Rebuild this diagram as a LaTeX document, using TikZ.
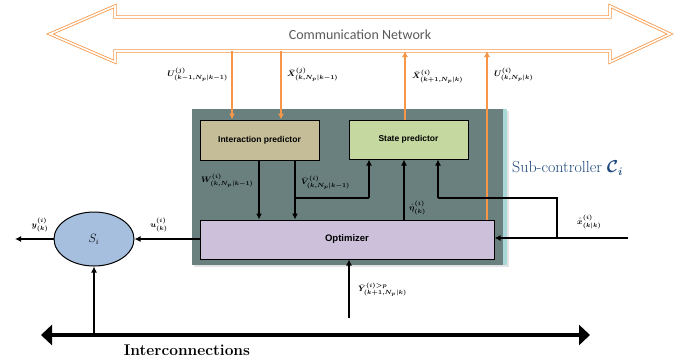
\documentclass[tikz,border=0pt]{standalone}
\usepackage{amsmath,bm}
\usepackage{fontspec}
\newfontfamily\sansb{Liberation Sans}
\newfontfamily\carl{Carlito}
\usetikzlibrary{arrows.meta,shapes.geometric}
\definecolor{slate}{RGB}{105,128,126}
\definecolor{cyanstrip}{RGB}{170,215,215}
\definecolor{khaki}{RGB}{196,189,151}
\definecolor{lgreen}{RGB}{196,216,160}
\definecolor{lav}{RGB}{204,192,218}
\definecolor{eblue}{RGB}{166,191,222}
\definecolor{orng}{RGB}{247,150,70}
\definecolor{subblue}{RGB}{31,73,125}
\definecolor{netgray}{RGB}{90,90,90}
\tikzset{
  blk/.style={draw=black, line width=1pt, inner sep=0pt},
  boxtxt/.style={font=\sansb\bfseries\fontsize{8.5}{10}\selectfont},
  oarrow/.style={draw=orng, line width=1.8pt, -{Latex[length=6pt,width=6pt]}},
  karrow/.style={draw=black, line width=1.6pt, -{Latex[length=6pt,width=6pt]}},
  kline/.style={draw=black, line width=1.6pt},
  lab/.style={font=\fontsize{8.5}{10}\selectfont, inner sep=0pt}
}
\begin{document}
\begin{tikzpicture}[x=1pt,y=-1pt]
\useasboundingbox (0,0) rectangle (684,360);
% Communication network arrow
\draw[draw=orng, double=white, double distance=1.6pt, line width=0.8pt, line join=miter]
  (50,34) -- (115,6) -- (115,17) -- (610,17) -- (610,6) -- (670,34)
  -- (610,62) -- (610,51) -- (115,51) -- (115,62) -- cycle;
\node[font=\carl\fontsize{14}{15}\selectfont, text=netgray] (net) at (360,35) {Communication Network};
% network anchor coordinates
\coordinate (n1) at (232,51);
\coordinate (n2) at (281,51);
\coordinate (n3) at (405,51);
\coordinate (n4) at (487,51);
% sub-controller box
\fill[gray!22] (194,111) rectangle (509,267);
\node[fill=slate, minimum width=315pt, minimum height=156pt, inner sep=0pt] (sub) at (349.5,187) {};
\fill[cyanstrip] (503,109) rectangle (507,265);
% inner blocks
\node[blk, fill=khaki, minimum width=119pt, minimum height=40pt, boxtxt] (ip) at (259.5,140) {Interaction predictor};
\node[blk, fill=lgreen, minimum width=119pt, minimum height=39pt, boxtxt] (sp) at (408.5,139.5) {State predictor};
\node[blk, fill=lav, minimum width=294pt, minimum height=39pt, font=\sansb\bfseries\fontsize{9.5}{11}\selectfont] (opt) at (347,239.5) {Optimizer};
\node[ellipse, draw=black, line width=1pt, fill=eblue, minimum width=80pt, minimum height=54pt, inner sep=0pt, font=\large] (sys) at (94,239) {$S_i$};
\node[font=\fontsize{16}{18}\selectfont, text=subblue, anchor=west, inner sep=0pt] (subl) at (512,168) {Sub-controller $\bm{\mathcal{C}_i}$};
% orange arrows
\draw[oarrow] (n1) -- (n1 |- ip.north);
\draw[oarrow] (n2) -- (n2 |- ip.north);
\draw[oarrow] (n3 |- sp.north) -- (n3);
\draw[oarrow] (n4 |- opt.north) -- (n4);
% black internal arrows
\coordinate (w1) at (259,160);
\coordinate (v1) at (295,160);
\coordinate (vb) at (295,198);
\coordinate (vc) at (369,198);
\draw[karrow] (w1) -- (w1 |- opt.north);
\draw[karrow] (v1) -- (v1 |- opt.north);
\draw[kline] (vb) -- (vc);
\draw[karrow] (vc) -- (vc |- sp.south);
\coordinate (eta) at (404,220);
\draw[karrow] (eta) -- (eta |- sp.south);
\coordinate (xin) at (628,238);
\coordinate (xb) at (557,238);
\coordinate (xc) at (557,198);
\coordinate (xd) at (438,198);
\draw[karrow] (xin) -- (xin -| opt.east);
\draw[kline] (xb) -- (xc) -- (xd);
\draw[karrow] (xd) -- (xd |- sp.south);
% plant arrows
\draw[karrow] (opt.west |- sys.east) -- (sys.east);
\coordinate (yout) at (15,239);
\draw[karrow] (sys.west) -- (yout);
\coordinate (ybot) at (349,318);
\draw[karrow] (ybot) -- (ybot |- opt.south);
% interconnections
\coordinate (il) at (41,335);
\coordinate (ir) at (590,335);
\draw[line width=4pt, {Triangle[length=11pt,width=20pt]}-{Triangle[length=11pt,width=20pt]}] (il) -- (ir);
\coordinate (iu) at (94,335);
\draw[karrow] (iu) -- (sys.south);
\node[font=\bfseries\fontsize{15.5}{17}\selectfont, inner sep=0pt] (icl) at (187,350) {Interconnections};
% labels
\node[lab, anchor=east] (lU1) at (228,75) {$\bm{U^{(j)}_{(k-1,N_p|k-1)}}$};
\node[lab, anchor=west] (lX1) at (287,75) {$\bm{\bar{X}^{(j)}_{(k,N_p|k-1)}}$};
\node[lab, anchor=west] (lX2) at (412,77) {$\bm{\bar{X}^{(i)}_{(k+1,N_p|k)}}$};
\node[lab, anchor=west] (lU2) at (494,75) {$\bm{U^{(i)}_{(k,N_p|k)}}$};
\node[lab, anchor=west] (lW) at (201,181) {$\bm{W^{(i)}_{(k,N_p|k-1)}}$};
\node[lab, anchor=west] (lV) at (301,183) {$\bm{\bar{V}^{(i)}_{(k,N_p|k-1)}}$};
\node[lab, anchor=west] (leta) at (409,208) {$\bm{\hat{\eta}^{(i)}_{(k)}}$};
\node[lab, anchor=west] (lx) at (577,222) {$\bm{\hat{x}^{(i)}_{(k|k)}}$};
\node[lab] (lu) at (159,225) {$\bm{u^{(i)}_{(k)}}$};
\node[lab] (ly) at (40,225) {$\bm{y^{(i)}_{(k)}}$};
\node[lab, anchor=west] (lY) at (358,290) {$\bm{\bar{Y}^{(i)>p}_{(k+1,N_p|k)}}$};
\end{tikzpicture}
\end{document}
